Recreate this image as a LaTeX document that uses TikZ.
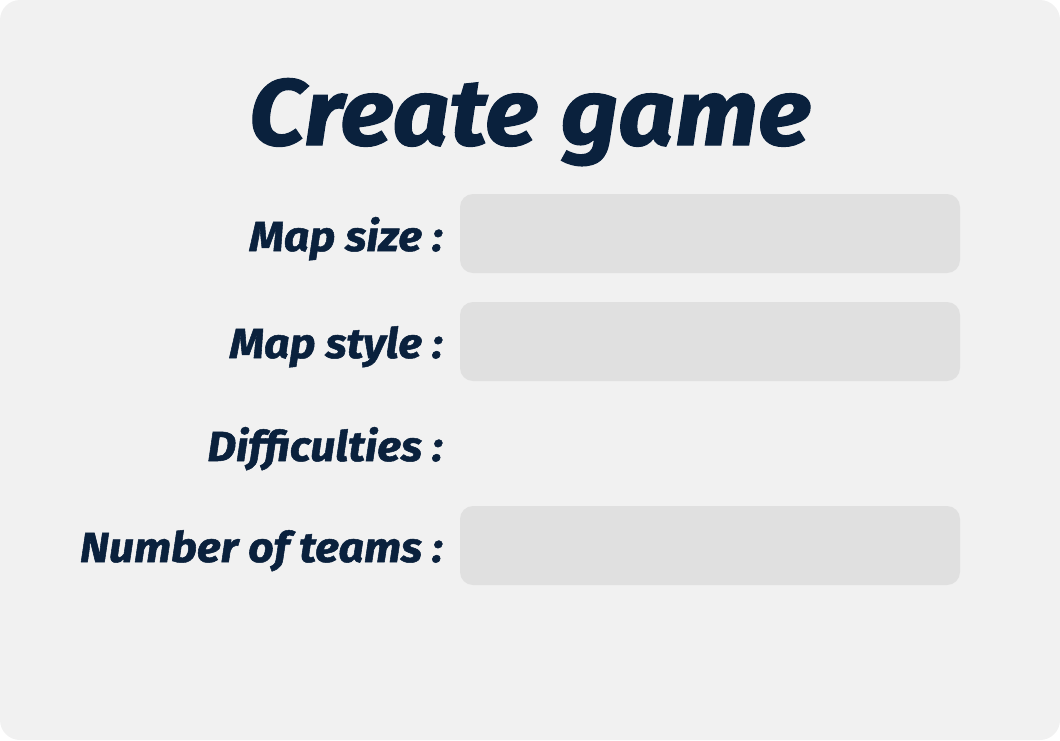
\documentclass[tikz,border=0pt]{standalone}
\usepackage{fontspec}
\setmainfont{Fira Sans}[BoldItalicFeatures={FakeBold=1.2}]
\usetikzlibrary{positioning}
\definecolor{navy}{HTML}{0A213D}
\definecolor{panel}{HTML}{F1F1F1}
\definecolor{field}{HTML}{E0E0E0}
\newcommand{\wide}[1]{\scalebox{1.06}[1]{#1}}
\tikzstyle{label} = [anchor=base east,inner sep=0pt,text=navy,font=\bfseries\itshape\fontsize{42}{44}\selectfont]
\tikzstyle{input} = [fill=field,rounded corners=13pt]

\begin{document}
\begin{tikzpicture}[x=1pt,y=-1pt]
\useasboundingbox (0,0) rectangle (1060,740);
\fill[panel, rounded corners=20pt] (0,0) rectangle (1060,740);
\node[anchor=base,inner sep=0pt,text=navy,font=\bfseries\itshape\fontsize{94}{100}\selectfont] (title) at (530,145) {\wide{Create game}};
\node[label] (size) at (443,251) {\wide{Map size :}};
\node[label] (style) at (443,358) {\wide{Map style :}};
\node[label] (diff) at (443,461) {\wide{Difficulties :}};
\node[label] (teams) at (443,562) {\wide{Number of teams :}};
\fill[input] (460,194) rectangle (960,273);
\fill[input] (460,302) rectangle (960,381);
\fill[input] (460,506) rectangle (960,585);
\end{tikzpicture}
\end{document}
